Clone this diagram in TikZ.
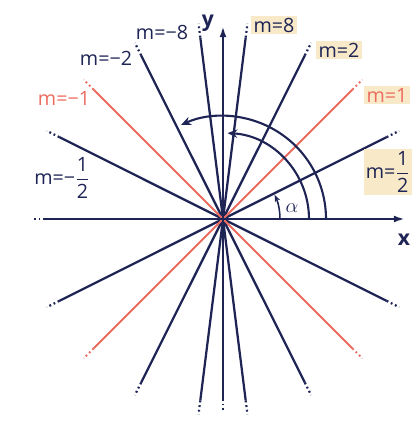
\documentclass[tikz,border=0pt]{standalone}
\usepackage{amsmath}
\usepackage{fontspec}
\setmainfont{Open Sans}
\usepackage{tikz}
\usetikzlibrary{arrows.meta}
\definecolor{navy}{RGB}{30,36,84}
\definecolor{salmon}{RGB}{236,108,96}
\definecolor{sand}{RGB}{248,233,201}
\tikzset{
  gline/.style={navy,line width=1.6pt},
  rline/.style={salmon,line width=1.4pt},
  dots/.style={dash pattern=on 1.3pt off 2pt},
  arcline/.style={navy,line width=1.5pt,-{Stealth[length=7pt,width=6pt]}},
  lab/.style={navy,font=\fontsize{14}{17}\selectfont,inner sep=1.5pt},
  hl/.style={lab,fill=sand},
}

\begin{document}
\begin{tikzpicture}[x=0.025cm,y=0.025cm]
\useasboundingbox (-223,-209) rectangle (189,219);
\coordinate (O) at (0,0);
% lines through the origin: name/angle/style
\foreach \n/\a/\s in {ph/26.57/gline, p2/63.43/gline, p8/82.87/gline, n8/97.13/gline, n2/116.57/gline, nh/153.43/gline, p1/45/rline, n1/135/rline}{
  \coordinate (\n-a) at (\a:183);     \coordinate (\n-A) at (\a:197);
  \coordinate (\n-b) at (\a+180:183); \coordinate (\n-B) at (\a+180:197);
  \draw[\s] (\n-b) -- (\n-a);
  \draw[\s,dots] (\n-a) -- (\n-A);  \draw[\s,dots] (\n-b) -- (\n-B);
}
% axes
\coordinate (xl) at (-178,0); \coordinate (xL) at (-190,0); \coordinate (xr) at (182,0);
\coordinate (yb) at (0,-180); \coordinate (yB) at (0,-192); \coordinate (yt) at (0,193);
\draw[gline,-{Latex[length=8pt,width=5pt]}] (xl) -- (xr);  \draw[gline,dots] (xl) -- (xL);
\draw[gline,-{Latex[length=8pt,width=5pt]}] (yb) -- (yt);  \draw[gline,dots] (yb) -- (yB);
% angle arcs
\coordinate (ai) at (86,0); \coordinate (ao) at (103,0); \coordinate (aa) at (57,0);
\draw[arcline] (ao) arc[start angle=0,end angle=114,radius=103];
\draw[arcline] (ai) arc[start angle=0,end angle=87,radius=86];
\draw[navy,line width=1.1pt,-{Stealth[length=5pt,width=4pt]}] (aa) arc[start angle=0,end angle=25,radius=57];
% labels
\node[lab] (alpha) at (69,11) {$\alpha$};
\node[lab,font=\fontsize{15}{18}\selectfont\bfseries] (xlab) at (181,-21) {x};
\node[lab,font=\fontsize{15}{18}\selectfont\bfseries] (ylab) at (-15,196) {y};
\node[lab] (ln8) at (-61,187) {m=−8};
\node[hl]  (lp8) at (51,194) {m=8};
\node[lab] (ln2) at (-117,161) {m=−2};
\node[hl]  (lp2) at (116,169) {m=2};
\node[lab,text=salmon] (ln1) at (-159,121) {m=−1};
\node[hl,text=salmon]  (lp1) at (164,124) {m=1};
\node[lab] (lnh) at (-161,41) {m=−\(\dfrac{\text{1}}{\text{2}}\)};
\node[hl]  (lph) at (165,47) {m=\(\dfrac{\text{1}}{\text{2}}\)};
\end{tikzpicture}
\end{document}
